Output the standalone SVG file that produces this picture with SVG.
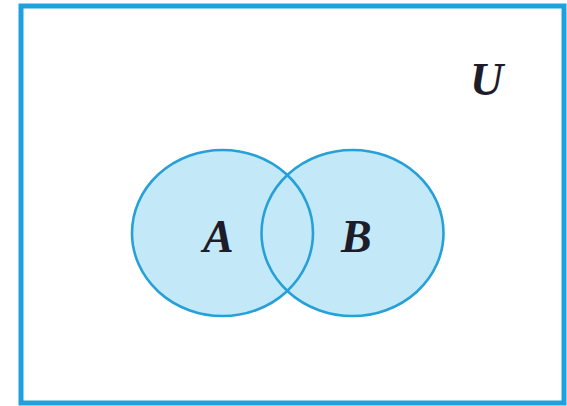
<svg xmlns="http://www.w3.org/2000/svg" width="567" height="406" viewBox="0 0 567 406">
  <style>
    .frame { fill: #ffffff; stroke: #1ea2df; stroke-width: 5; }
    .set-fill { fill: #c3e9f8; stroke: none; }
    .set-edge { fill: none; stroke: #27a0d8; stroke-width: 2.6; }
    .lbl { font-family: "Liberation Serif", "Times New Roman", serif; font-style: italic; font-weight: bold; font-size: 46px; fill: #1c1c2a; }
  </style>
  <rect width="567" height="406" fill="#ffffff"/>
  <g id="universe">
    <rect class="frame" x="21" y="6" width="543" height="397"/>
    <text class="lbl" x="470" y="95">U</text>
  </g>
  <g id="fills">
    <ellipse class="set-fill" cx="222.5" cy="233" rx="90.5" ry="83"/>
    <ellipse class="set-fill" cx="352.5" cy="233" rx="91" ry="83"/>
  </g>
  <g id="set-A">
    <ellipse class="set-edge" cx="222.5" cy="233" rx="90.5" ry="83"/>
    <text class="lbl" x="203" y="252">A</text>
  </g>
  <g id="set-B">
    <ellipse class="set-edge" cx="352.5" cy="233" rx="91" ry="83"/>
    <text class="lbl" x="341" y="252">B</text>
  </g>
</svg>
